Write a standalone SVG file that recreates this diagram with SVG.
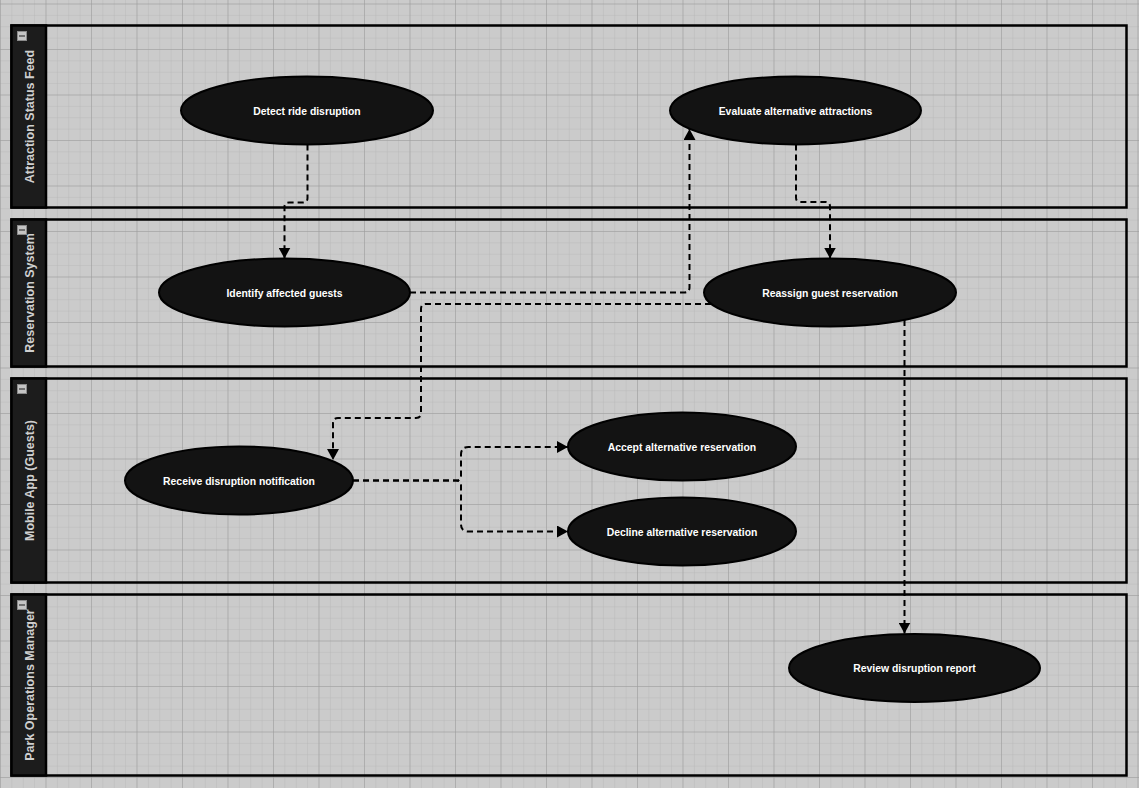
<svg xmlns="http://www.w3.org/2000/svg" width="1139" height="788" viewBox="0 0 1139 788">
  <style>
    .lane { fill: none; stroke: #000; stroke-width: 2.5; }
    .lanehead { fill: #1c1c1c; stroke: #000; stroke-width: 2.5; }
    .lanelabel { font-family: "Liberation Sans", Arial, sans-serif; font-size: 12.5px; font-weight: bold; fill: #cfcfcf; text-anchor: middle; }
    .icon { fill: #c4c4c4; stroke: #8a8a8a; stroke-width: 1; }
    .iconbar { stroke: #555; stroke-width: 1.5; }
    .node { fill: #131313; stroke: #000; stroke-width: 2; }
    .label { font-family: "Liberation Sans", Arial, sans-serif; font-size: 10.4px; font-weight: bold; fill: #fff; text-anchor: middle; }
    .edge { fill: none; stroke: #000; stroke-width: 2; stroke-dasharray: 6 4; }
  </style>
  <defs>
    <pattern id="minor" patternUnits="userSpaceOnUse" x="0" y="3.5" width="11.375" height="11.375">
      <path d="M0,0 H11.375 M0,0 V11.375" fill="none" stroke="#b9b9b9" stroke-width="1"/>
    </pattern>
    <pattern id="major" patternUnits="userSpaceOnUse" x="0" y="3.5" width="45.5" height="45.5">
      <path d="M0,0 H45.5 M0,0 V45.5" fill="none" stroke="#9a9a9a" stroke-width="1"/>
    </pattern>
    <marker id="arrow" markerUnits="userSpaceOnUse" markerWidth="12" markerHeight="12" refX="11" refY="6" orient="auto" viewBox="0 0 12 12">
      <path d="M0,0 L11,6 L0,12 Z" fill="#000"/>
    </marker>
  </defs>

  <rect x="0" y="0" width="1139" height="788" fill="#cbcbcb"/>
  <rect x="0" y="0" width="1139" height="788" fill="url(#minor)"/>
  <rect x="0" y="0" width="1139" height="788" fill="url(#major)"/>

  <g id="lane-attraction-status-feed">
    <rect class="lane" x="11.5" y="25.5" width="1115" height="182"/>
    <rect class="lanehead" x="11.5" y="25.5" width="34.5" height="182"/>
    <rect class="icon" x="17.5" y="31.5" width="9" height="9"/>
    <line class="iconbar" x1="19" y1="36" x2="25" y2="36"/>
    <text class="lanelabel" transform="translate(29.5,116.5) rotate(-90)" dy="0.36em">Attraction Status Feed</text>
  </g>
  <g id="lane-reservation-system">
    <rect class="lane" x="11.5" y="219.5" width="1115" height="147"/>
    <rect class="lanehead" x="11.5" y="219.5" width="34.5" height="147"/>
    <rect class="icon" x="17.5" y="225.5" width="9" height="9"/>
    <line class="iconbar" x1="19" y1="230" x2="25" y2="230"/>
    <text class="lanelabel" transform="translate(29.5,293) rotate(-90)" dy="0.36em">Reservation System</text>
  </g>
  <g id="lane-mobile-app">
    <rect class="lane" x="11.5" y="378.5" width="1115" height="204"/>
    <rect class="lanehead" x="11.5" y="378.5" width="34.5" height="204"/>
    <rect class="icon" x="17.5" y="384.5" width="9" height="9"/>
    <line class="iconbar" x1="19" y1="389" x2="25" y2="389"/>
    <text class="lanelabel" transform="translate(29.5,480.5) rotate(-90)" dy="0.36em">Mobile App (Guests)</text>
  </g>
  <g id="lane-park-operations-manager">
    <rect class="lane" x="11.5" y="594.5" width="1115" height="181"/>
    <rect class="lanehead" x="11.5" y="594.5" width="34.5" height="181"/>
    <rect class="icon" x="17.5" y="600.5" width="9" height="9"/>
    <line class="iconbar" x1="19" y1="605" x2="25" y2="605"/>
    <text class="lanelabel" transform="translate(29.5,685) rotate(-90)" dy="0.36em">Park Operations Manager</text>
  </g>

  <g id="node-detect">
    <ellipse class="node" cx="307" cy="110.5" rx="126" ry="34"/>
    <text class="label" x="307" y="114.5">Detect ride disruption</text>
  </g>
  <g id="node-evaluate">
    <ellipse class="node" cx="795.5" cy="110.5" rx="125.5" ry="34"/>
    <text class="label" x="795.5" y="114.5">Evaluate alternative attractions</text>
  </g>
  <g id="node-identify">
    <ellipse class="node" cx="284.5" cy="292.5" rx="125.5" ry="34"/>
    <text class="label" x="284.5" y="296.5">Identify affected guests</text>
  </g>
  <g id="node-reassign">
    <ellipse class="node" cx="830" cy="292.5" rx="126" ry="34"/>
    <text class="label" x="830" y="296.5">Reassign guest reservation</text>
  </g>
  <g id="node-receive">
    <ellipse class="node" cx="239" cy="480.5" rx="114" ry="34"/>
    <text class="label" x="239" y="484.5">Receive disruption notification</text>
  </g>
  <g id="node-accept">
    <ellipse class="node" cx="682" cy="446.5" rx="114" ry="34"/>
    <text class="label" x="682" y="450.5">Accept alternative reservation</text>
  </g>
  <g id="node-decline">
    <ellipse class="node" cx="682" cy="531.5" rx="114" ry="34"/>
    <text class="label" x="682" y="535.5">Decline alternative reservation</text>
  </g>
  <g id="node-review">
    <ellipse class="node" cx="914.5" cy="668" rx="125.5" ry="34"/>
    <text class="label" x="914.5" y="672">Review disruption report</text>
  </g>

  <g id="connectors">
    <path class="edge" marker-end="url(#arrow)" d="M307.5,144.5 V198 Q307.5,202.5 303,202.5 H289 Q284.5,202.5 284.5,207 V258.5"/>
    <path class="edge" marker-end="url(#arrow)" d="M410,292.5 H684.5 Q689.5,292.5 689.5,287.5 V129"/>
    <path class="edge" marker-end="url(#arrow)" d="M796,144.5 V197.5 Q796,202 800.5,202 H825.5 Q830,202 830,206.5 V258.5"/>
    <path class="edge" marker-end="url(#arrow)" d="M711,304 H426 Q421,304 421,309 V413 Q421,418 416,418 H338 Q333,418 333,423 V460"/>
    <path class="edge" marker-end="url(#arrow)" d="M353,480.5 H456 Q461,480.5 461,475.5 V454.5 Q461,447 468.5,447 H568"/>
    <path class="edge" marker-end="url(#arrow)" d="M353,480.5 H456 Q461,480.5 461,485.5 V524.5 Q461,531.5 468,531.5 H568"/>
    <path class="edge" marker-end="url(#arrow)" d="M904.5,320 V633.5"/>
  </g>
</svg>
